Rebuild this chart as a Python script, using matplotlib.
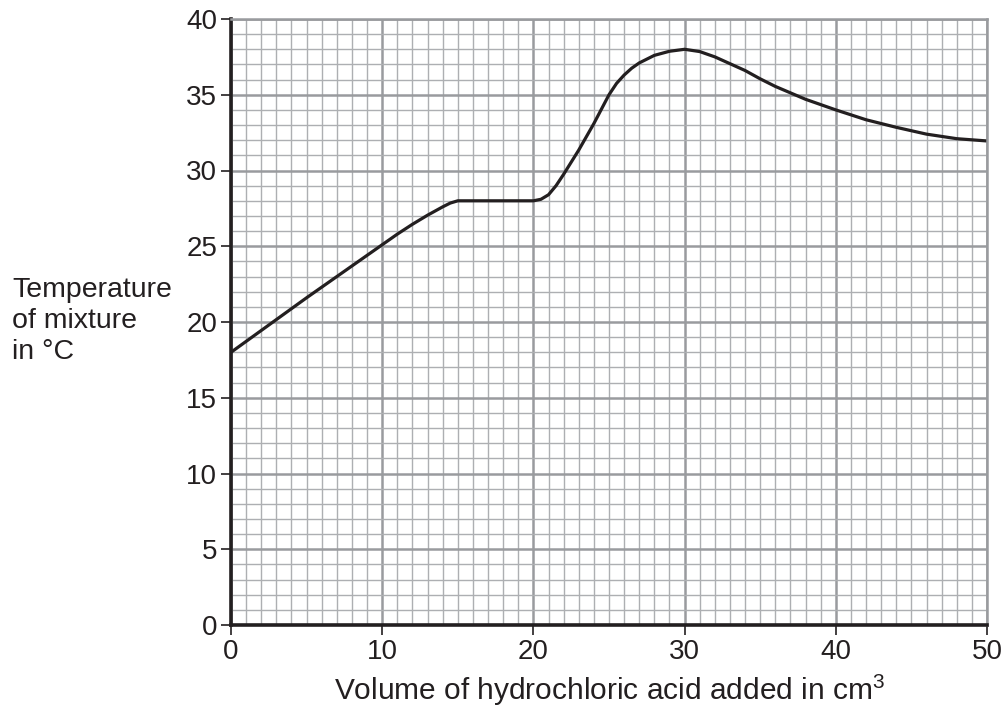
import matplotlib
matplotlib.use('Agg')
import matplotlib.pyplot as plt
from matplotlib.ticker import MultipleLocator

plt.rcParams['font.family'] = ['Liberation Sans', 'DejaVu Sans']
plt.rcParams['mathtext.fontset'] = 'custom'
plt.rcParams['mathtext.rm'] = 'Liberation Sans'
plt.rcParams['mathtext.default'] = 'regular'

# volume of acid added (cm3) and temperature (C)
volume = [0, 5, 10, 11, 12, 13, 14, 14.5, 15, 20, 20.5, 21, 21.5, 22, 23, 24, 24.5, 25,
          25.5, 26, 26.5, 27, 28, 29, 30, 31, 32, 34, 35, 36, 38, 40, 42, 44, 46, 48, 50]
temperature = [18, 21.6, 25.1, 25.8, 26.45, 27.05, 27.6, 27.85, 28, 28, 28.1, 28.4, 29.0,
               29.75, 31.35, 33.1, 34.05, 35, 35.75, 36.3, 36.75, 37.1, 37.6, 37.87, 38,
               37.85, 37.5, 36.6, 36.05, 35.55, 34.7, 34, 33.35, 32.85, 32.4, 32.1, 31.95]

x_ticks = [0, 10, 20, 30, 40, 50]
y_ticks = [0, 5, 10, 15, 20, 25, 30, 35, 40]

dark = '#231f20'

fig = plt.figure(figsize=(10.06, 7.08), dpi=100)
ax = fig.add_axes([231 / 1006, 1 - 625 / 708, (987 - 231) / 1006, (625 - 19) / 708])

ax.set_xlim(0, 50)
ax.set_ylim(0, 40)
ax.set_xticks(x_ticks)
ax.set_yticks(y_ticks)
ax.xaxis.set_minor_locator(MultipleLocator(1))
ax.yaxis.set_minor_locator(MultipleLocator(1))

ax.grid(which='minor', color='#adafb2', lw=1.0)
ax.grid(which='major', color='#999b9e', lw=1.8)
ax.set_axisbelow(True)

ax.plot(volume, temperature, color=dark, lw=2.3, solid_capstyle='butt',
        solid_joinstyle='round')

for side in ['top', 'right']:
    ax.spines[side].set_color('#999b9e')
    ax.spines[side].set_linewidth(1.8)
for side in ['left', 'bottom']:
    ax.spines[side].set_color(dark)
    ax.spines[side].set_linewidth(2.6)

ax.tick_params(which='major', direction='out', length=7, width=1.2, color=dark,
               labelsize=20, labelcolor=dark, pad=3)
ax.tick_params(which='minor', length=0)

fig.text(12 / 1006, 1 - 321 / 708, 'Temperature\nof mixture\nin °C', ha='left', va='center',
         fontsize=20.5, color=dark, linespacing=1.24)
fig.text(609 / 1006, 1 - 690 / 708, 'Volume of hydrochloric acid added in cm$^{3}$',
         ha='center', va='center', fontsize=21.5, color=dark)

fig.savefig('out.png', dpi=100)
